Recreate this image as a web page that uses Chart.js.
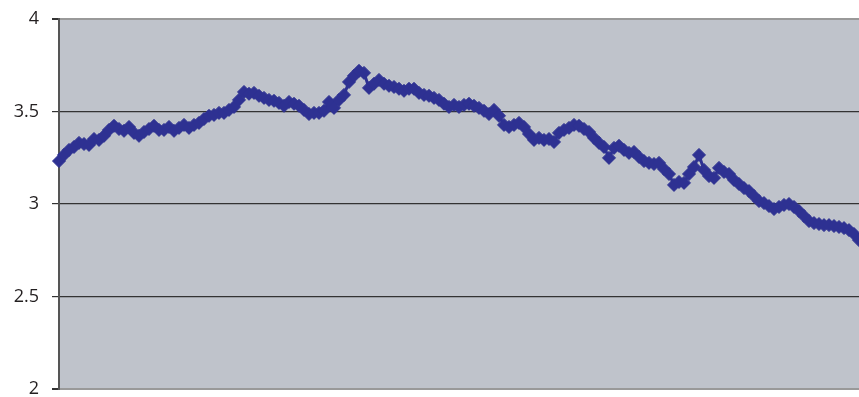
<!DOCTYPE html>
<html>
<head>
<meta charset="utf-8">
<script src="https://cdn.jsdelivr.net/npm/chart.js@4/dist/chart.umd.min.js"></script>
<style>
  html, body { margin: 0; padding: 0; background: #fff; overflow: hidden; }
  #wrap { width: 859px; height: 418px; margin-top: -5px; position: relative; }
</style>
</head>
<body>
<div id="wrap"><canvas id="chart"></canvas></div>
<script>
// values, one point every ~5px
const values = [
  3.232, 3.265, 3.292, 3.308, 3.330, 3.324, 3.319, 3.351, 3.346, 3.368,
  3.400, 3.422, 3.405, 3.395, 3.416, 3.384, 3.368, 3.389, 3.405, 3.422,
  3.400, 3.400, 3.416, 3.395, 3.411, 3.427, 3.411, 3.427, 3.438, 3.459,
  3.476, 3.481, 3.492, 3.492, 3.508, 3.524, 3.562, 3.605, 3.595, 3.600,
  3.584, 3.573, 3.562, 3.557, 3.546, 3.530, 3.551, 3.541, 3.530, 3.508,
  3.486, 3.492, 3.492, 3.503, 3.551, 3.519, 3.562, 3.589, 3.659, 3.692,
  3.719, 3.708, 3.627, 3.649, 3.670, 3.649, 3.638, 3.632, 3.622, 3.611,
  3.622, 3.622, 3.600, 3.589, 3.584, 3.573, 3.562, 3.541, 3.524, 3.535,
  3.524, 3.535, 3.541, 3.530, 3.519, 3.503, 3.486, 3.508, 3.476, 3.427,
  3.416, 3.427, 3.438, 3.416, 3.378, 3.346, 3.357, 3.346, 3.351, 3.335,
  3.384, 3.400, 3.411, 3.427, 3.422, 3.405, 3.389, 3.357, 3.330, 3.308,
  3.249, 3.303, 3.314, 3.292, 3.276, 3.281, 3.254, 3.232, 3.222, 3.216,
  3.222, 3.189, 3.162, 3.103, 3.119, 3.114, 3.162, 3.200, 3.265, 3.184,
  3.151, 3.141, 3.195, 3.173, 3.162, 3.130, 3.108, 3.086, 3.070, 3.043,
  3.016, 3.005, 2.989, 2.973, 2.984, 2.995, 3.000, 2.984, 2.962, 2.935,
  2.908, 2.897, 2.892, 2.886, 2.886, 2.881, 2.876, 2.870, 2.859, 2.838,
  2.805
];
const categories = values.map((v, i) => String(i + 1));
const yTicks = [2, 2.5, 3, 3.5, 4];

// fill the plot area grey
const plotBg = {
  id: 'plotBg',
  beforeDraw(chart) {
    const a = chart.chartArea, ctx = chart.ctx;
    ctx.save();
    ctx.fillStyle = '#bfc3cb';
    ctx.fillRect(a.left, a.top, a.right - a.left, a.bottom - a.top);
    ctx.restore();
  }
};

new Chart(document.getElementById('chart'), {
  type: 'line',
  data: {
    labels: categories,
    datasets: [{
      data: values,
      borderColor: '#2e3192',
      backgroundColor: '#2e3192',
      borderWidth: 3,
      pointStyle: 'rectRot',
      pointRadius: 6.5,
      pointBorderWidth: 1,
      pointBorderColor: '#2e3192',
      pointBackgroundColor: '#2e3192',
      tension: 0,
      clip: false
    }]
  },
  options: {
    responsive: true,
    maintainAspectRatio: false,
    animation: false,
    layout: { autoPadding: false, padding: { top: 8, bottom: 0, left: 0, right: 0 } },
    plugins: { legend: { display: false }, tooltip: { enabled: false } },
    scales: {
      x: { display: false, offset: false },
      y: {
        min: 2, max: 4,
        afterBuildTicks(axis) { axis.ticks = yTicks.map(v => ({ value: v })); },
        afterFit(axis) { axis.width = 59; },
        ticks: {
          color: '#231f20',
          padding: 13,
          font: { family: 'Open Sans', size: 18 },
          callback: v => String(v)
        },
        grid: {
          color: ctx => (ctx.tick && (ctx.tick.value === 4 || ctx.tick.value === 2)) ? '#999' : '#333',
          lineWidth: ctx => (ctx.tick && (ctx.tick.value === 4 || ctx.tick.value === 2)) ? 2 : 1.2,
          tickColor: '#333',
          tickLength: 7
        },
        border: { color: '#555', width: 2 }
      }
    }
  },
  plugins: [plotBg]
});
</script>
</body>
</html>
